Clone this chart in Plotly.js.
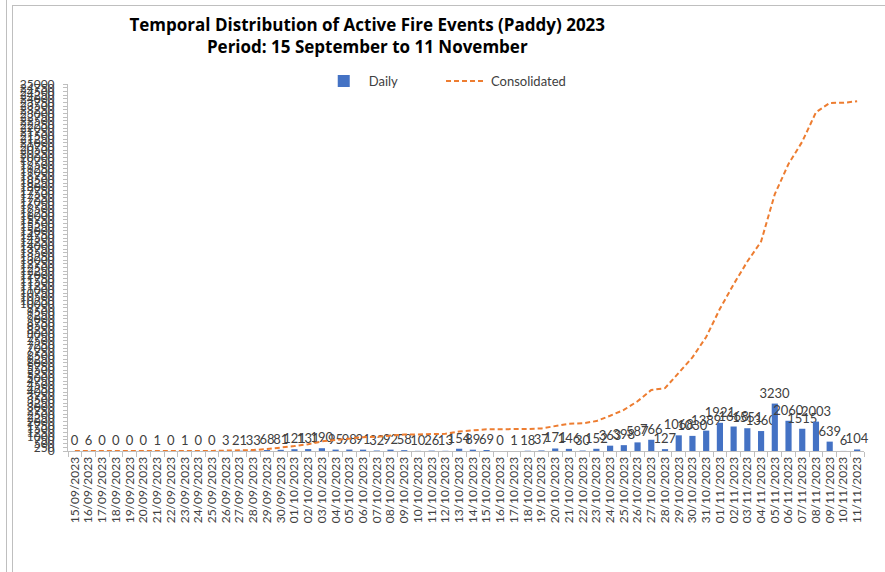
<!DOCTYPE html>
<html>
<head>
<meta charset="utf-8">
<script src="https://cdn.plot.ly/plotly-3.0.1.min.js"></script>
<style>
html,body{margin:0;padding:0;background:#fff;}
#wrap{position:relative;width:885px;height:572px;overflow:hidden;}
#chart{position:absolute;left:0;top:0;width:885px;height:572px;}
.ln{position:absolute;background:#bfbfbf;}
</style>
</head>
<body>
<div id="wrap">
<div id="chart"></div>
<div class="ln" style="left:6px;top:0;width:1px;height:572px;"></div>
<div class="ln" style="left:12px;top:5px;width:1px;height:567px;"></div>
<div class="ln" style="left:12px;top:5px;width:873px;height:1px;"></div>
</div>
<script>
const dates = ["15/09/2023","16/09/2023","17/09/2023","18/09/2023","19/09/2023","20/09/2023","21/09/2023","22/09/2023","23/09/2023","24/09/2023","25/09/2023","26/09/2023","27/09/2023","28/09/2023","29/09/2023","30/09/2023",
"01/10/2023","02/10/2023","03/10/2023","04/10/2023","05/10/2023","06/10/2023","07/10/2023","08/10/2023","09/10/2023","10/10/2023","11/10/2023","12/10/2023","13/10/2023","14/10/2023","15/10/2023","16/10/2023","17/10/2023","18/10/2023","19/10/2023","20/10/2023","21/10/2023","22/10/2023","23/10/2023","24/10/2023","25/10/2023","26/10/2023","27/10/2023","28/10/2023","29/10/2023","30/10/2023","31/10/2023",
"01/11/2023","02/11/2023","03/11/2023","04/11/2023","05/11/2023","06/11/2023","07/11/2023","08/11/2023","09/11/2023","10/11/2023","11/11/2023"];

const daily = [0,6,0,0,0,0,1,0,1,0,0,3,21,33,68,81,
121,131,190,95,98,91,32,92,58,10,26,13,154,89,69,0,1,18,37,171,146,30,152,363,398,587,766,127,1068,1030,1389,
1921,1668,1551,1360,3230,2060,1515,2003,639,6,104];

const consolidated = [0,6,6,6,6,6,7,7,8,8,8,11,32,65,133,214,
335,466,656,751,849,940,972,1064,1122,1132,1158,1171,1325,1414,1483,1483,1484,1502,1539,1710,1856,1886,2038,2401,2799,3386,4152,4279,5347,6377,7766,
9687,11355,12906,14266,17496,19556,21071,23074,23713,23719,23823];

const titleLines = ["Temporal Distribution of Active Fire Events (Paddy) 2023","Period: 15 September to 11 November"];
const seriesNames = ["Daily","Consolidated"];

const FONT = "Lato, 'Open Sans', sans-serif";
const TFONT = "'Open Sans', Lato, sans-serif";

const traces = [
  {
    type: "bar",
    name: seriesNames[0],
    legend: "legend",
    x: dates,
    y: daily,
    marker: {color: "#4472C4"},
    text: daily.map(String),
    textposition: "outside",
    textangle: 0,
    constraintext: "none",
    cliponaxis: false,
    textfont: {family: FONT, size: 13, color: "#404040"},
    hoverinfo: "x+y"
  },
  {
    type: "scatter",
    mode: "lines",
    name: seriesNames[1],
    legend: "legend2",
    x: dates,
    y: consolidated,
    line: {color: "#ED7D31", width: 2, dash: "5px,3px"},
    hoverinfo: "x+y"
  }
];

const legendBase = {
  orientation: "h",
  xanchor: "left",
  y: 1.008, yanchor: "middle",
  font: {family: FONT, size: 13, color: "#404040"},
  itemwidth: 40,
  bgcolor: "rgba(0,0,0,0)"
};

const layout = {
  width: 885,
  height: 572,
  separators: ".",
  paper_bgcolor: "rgba(0,0,0,0)",
  plot_bgcolor: "rgba(0,0,0,0)",
  margin: {l: 68, r: 21, t: 84, b: 121},
  font: {family: FONT, color: "#404040"},
  title: {
    text: "<b>" + titleLines[0] + "</b><br><b>" + titleLines[1] + "</b>",
    font: {family: TFONT, size: 17, color: "#000000"},
    x: 0.415, xref: "container", xanchor: "center",
    y: 0.946, yref: "container", yanchor: "top"
  },
  bargap: 0.55,
  showlegend: true,
  legend: Object.assign({}, legendBase, {x: 0.315}),
  legend2: Object.assign({}, legendBase, {x: 0.4686}),
  xaxis: {
    type: "category",
    tickmode: "linear",
    dtick: 1,
    tickangle: -90,
    tickfont: {family: FONT, size: 12, color: "#404040"},
    showline: true,
    linecolor: "#bfbfbf",
    linewidth: 1,
    ticks: "outside",
    tickson: "boundaries",
    ticklen: 5,
    tickcolor: "#bfbfbf",
    showgrid: false,
    zeroline: false
  },
  yaxis: {
    range: [0, 25000],
    tickmode: "linear",
    tick0: 0,
    dtick: 250,
    exponentformat: "none",
    separatethousands: false,
    tickfont: {family: FONT, size: 12, color: "#404040"},
    ticklabelstandoff: 6,
    showline: true,
    linecolor: "#bfbfbf",
    ticks: "outside",
    ticklen: 4,
    tickcolor: "#bfbfbf",
    showgrid: false,
    zeroline: false
  }
};

Plotly.newPlot("chart", traces, layout, {displayModeBar: false, staticPlot: true});
</script>
</body>
</html>
